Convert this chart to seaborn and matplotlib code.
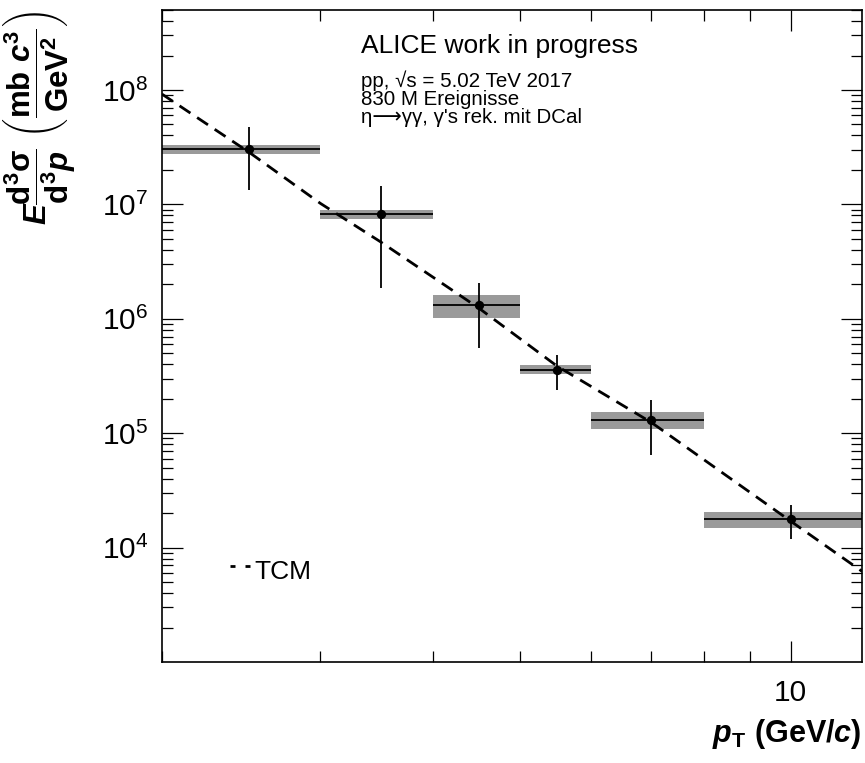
import numpy as np
import pandas as pd
import matplotlib
matplotlib.use("Agg")
import matplotlib.pyplot as plt
from matplotlib.lines import Line2D
from matplotlib.ticker import LogLocator, NullFormatter
import seaborn as sns

# eta meson invariant cross section, pp at 5.02 TeV
pt_low = np.array([2.0, 3.0, 4.0, 5.0, 6.0, 8.0])
pt_high = np.array([3.0, 4.0, 5.0, 6.0, 8.0, 12.0])
pt_center = np.array([2.5, 3.5, 4.5, 5.5, 7.0, 10.0])
xsec = np.array([3.03e7, 8.17e6, 1.31e6, 3.6e5, 1.30e5, 1.77e4])
stat_err = np.array([1.7e7, 6.3e6, 7.5e5, 1.2e5, 6.6e4, 5.7e3])
sys_err = np.array([3.0e6, 7.0e5, 3.0e5, 3.3e4, 2.2e4, 2.9e3])

# two-component-model fit evaluated at a few pT values
tcm_pt = [2.0, 2.5, 3.0, 3.5, 4.5, 5.5, 7.0, 10.0, 12.0]
tcm_val = [9.2e7, 2.85e7, 1.02e7, 4.7e6, 1.24e6, 3.85e5, 1.24e5, 1.7e4, 6.2e3]

y_major = [1e4, 1e5, 1e6, 1e7, 1e8]
x_major = [10]
x_major_labels = ["10"]

sns.set_theme(style="ticks")
plt.rcParams["font.family"] = ["Liberation Sans", "DejaVu Sans"]
plt.rcParams["text.color"] = "black"
plt.rcParams["axes.labelcolor"] = "black"
plt.rcParams["xtick.color"] = "black"
plt.rcParams["ytick.color"] = "black"
plt.rcParams["mathtext.fontset"] = "custom"
plt.rcParams["mathtext.rm"] = "Liberation Sans:bold"
plt.rcParams["mathtext.it"] = "Liberation Sans:bold:italic"
plt.rcParams["mathtext.bf"] = "Liberation Sans:bold"
plt.rcParams["mathtext.sf"] = "Liberation Sans:bold"

W, H = 865, 763
fig = plt.figure(figsize=(W / 100, H / 100), dpi=100)
ax = fig.add_axes([162 / W, 1 - 662 / H, 700 / W, 652 / H])
ax.set_xscale("log")
ax.set_yscale("log")

# systematic uncertainty boxes
ax.bar(pt_low, 2 * sys_err, width=pt_high - pt_low, bottom=xsec - sys_err,
       align="edge", color="#9a9a9a", edgecolor="none", zorder=1)

# statistical errors and bin widths
ax.errorbar(pt_center, xsec, yerr=stat_err,
            xerr=[pt_center - pt_low, pt_high - pt_center],
            fmt="none", ecolor="black", elinewidth=1.3, capsize=0, zorder=2)

tcm = pd.DataFrame({"pt": tcm_pt, "val": tcm_val})
sns.lineplot(data=tcm, x="pt", y="val", ax=ax, color="black", lw=2.0,
             linestyle=(0, (4.7, 2.9)), zorder=4)

pts = pd.DataFrame({"pt": pt_center, "val": xsec})
sns.scatterplot(data=pts, x="pt", y="val", ax=ax, color="black", s=45,
                edgecolor="black", linewidth=0, zorder=5)

ax.set_xlim(2, 12)
ax.set_ylim(1e3, 5e8)

ax.set_xticks(x_major, x_major_labels)
ax.xaxis.set_minor_locator(LogLocator(base=10, subs=np.arange(2, 10)))
ax.xaxis.set_minor_formatter(NullFormatter())
ax.set_yticks(y_major)
ax.yaxis.set_minor_locator(LogLocator(base=10, subs=np.arange(2, 10), numticks=20))
ax.yaxis.set_minor_formatter(NullFormatter())

ax.tick_params(which="both", direction="in", top=True, right=True,
               colors="black", width=0.9, labelsize=21.5)
ax.tick_params(which="major", length=15)
ax.tick_params(which="minor", length=8)
ax.tick_params(axis="y", pad=10)
ax.tick_params(axis="x", pad=12)
for s in ax.spines.values():
    s.set_linewidth(1.2)
    s.set_color("black")

ax.set_xlabel(r"$p_{\mathrm{T}}\ \mathrm{(GeV/}c\mathrm{)}$", fontsize=22,
              ha="right", va="baseline")
ax.xaxis.set_label_coords((861 - 162) / 700, (662 - 742) / 652)
ax.set_ylabel(r"$E\dfrac{\mathrm{d}^{3}\mathrm{\sigma}}{\mathrm{d}^{3}p}\ "
              r"\left(\dfrac{\mathrm{mb}\ c^{3}}{\mathrm{GeV}^{2}}\right)$",
              fontsize=22.5, ha="right", va="center")
ax.yaxis.set_label_coords((39 - 162) / 700, 1.0)

# header text
fig.text(361 / W, 1 - 53 / H, "ALICE work in progress", fontsize=19,
         ha="left", va="baseline")
for txt, base in [("pp, \u221as = 5.02 TeV 2017", 87),
                  ("830 M Ereignisse", 105),
                  ("\u03b7\u27f6\u03b3\u03b3, \u03b3's rek. mit DCal", 123)]:
    fig.text(361 / W, 1 - base / H, txt, fontsize=14.8, ha="left",
             va="baseline", family=["Liberation Sans", "DejaVu Sans"])

# legend entry
ax.add_line(Line2D([(230 - 162) / 700, (250 - 162) / 700],
                   [(662 - 566) / 652] * 2, transform=ax.transAxes,
                   color="black", lw=2.0, linestyle=(0, (1.8, 3.6))))
ax.text((254 - 162) / 700, (662 - 579) / 652, "TCM", transform=ax.transAxes,
        fontsize=19, ha="left", va="baseline")

fig.savefig("out.png", dpi=100)
